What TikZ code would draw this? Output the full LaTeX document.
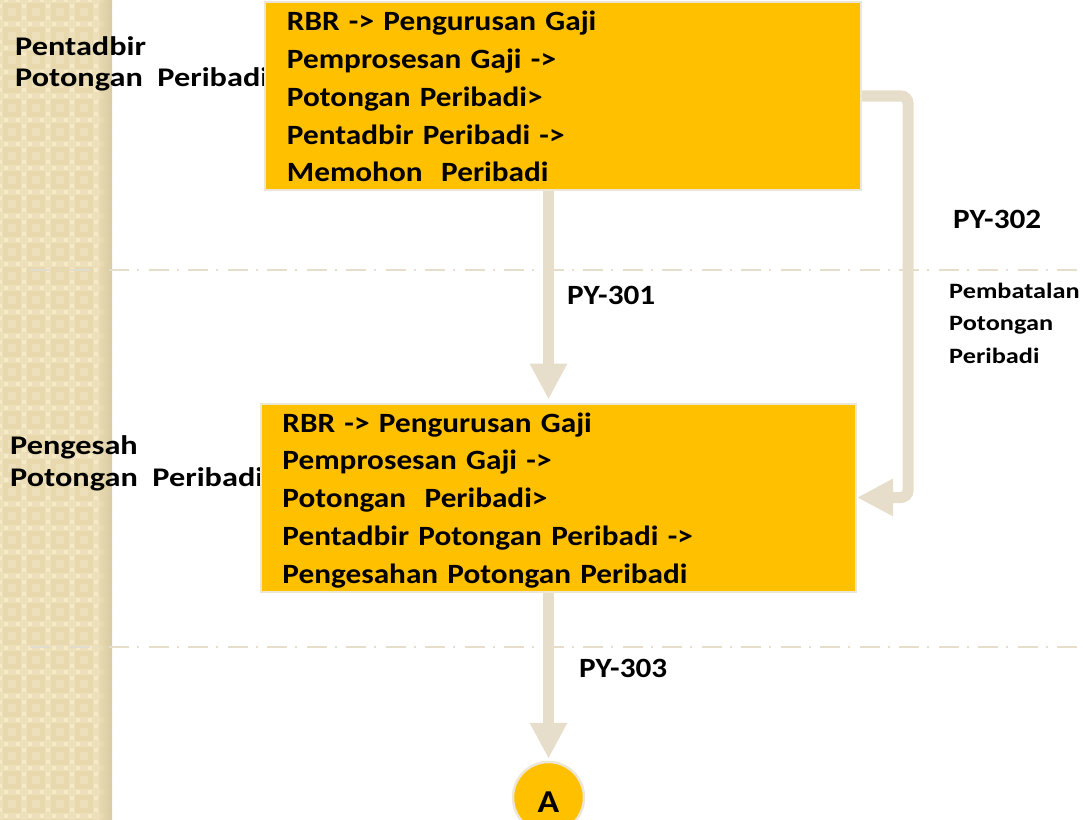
\documentclass[tikz,border=0pt]{standalone}
\usepackage{fontspec}
\setmainfont{Carlito}[FakeStretch=1.12]
\newfontfamily\perananfont{Carlito}[FakeStretch=1.2]
\usetikzlibrary{arrows.meta,positioning}

\definecolor{oren}{RGB}{255,192,0}
\definecolor{krim}{RGB}{230,222,202}
\definecolor{tepi}{RGB}{238,230,212}
\definecolor{jalur}{RGB}{231,216,174}
\definecolor{jalurcerah}{RGB}{236,223,185}
\definecolor{jalurtitik}{RGB}{246,233,197}
\definecolor{jalurgelap}{RGB}{212,199,162}
\definecolor{garisjalur}{RGB}{224,220,208}

\tikzset{
  teks/.style={font=\fontsize{28}{38}\selectfont\bfseries},
  kotak/.style={teks, draw=tepi, line width=2bp, fill=oren, align=left,
    text width=552bp, inner xsep=21.5bp, inner ysep=0pt, minimum height=188bp,
    text height=23bp, text depth=154bp},
  peranan/.style={font=\perananfont\fontsize{27}{32}\selectfont\bfseries, align=left,
    anchor=base west, inner sep=0pt},
  kod/.style={teks, anchor=base west, inner sep=0pt},
  aliran/.style={krim, line width=11bp, -{Triangle[width=35bp,length=36bp]}},
  garis/.style={line width=2.5bp, dash pattern=on 20bp off 8bp on 2bp off 9.5bp},
}

\begin{document}
\begin{tikzpicture}[x=1bp,y=-1bp]

    \useasboundingbox (0,0) rectangle (1084,820);

    % jalur kiri
    \begin{scope}
      \clip (0,0) rectangle (112,820);
      \fill[jalur] (0,0) rectangle (112,820);
      \foreach \i in {0,...,4}
        \foreach \j in {0,...,34} {
          \fill[jalurcerah] (24*\i-3,24*\j) rectangle ++(6,24);
          \fill[jalurcerah] (24*\i,24*\j-3) rectangle ++(24,6);
          \fill[jalurcerah] (24*\i+8,24*\j+8) rectangle ++(8,8);
          \fill[jalurtitik] (24*\i-8,24*\j-2) rectangle ++(4,4);
          \fill[jalurtitik] (24*\i+4,24*\j-2) rectangle ++(4,4);
          \fill[jalurtitik] (24*\i-2,24*\j-8) rectangle ++(4,4);
          \fill[jalurtitik] (24*\i-2,24*\j+4) rectangle ++(4,4);
        }
      \shade[left color=jalur, right color=jalurgelap, opacity=.8] (100,0) rectangle (112,820);
    \end{scope}

    % garis pemisah
    \draw[garis, krim] (30,270) -- (1084,270);
    \draw[garis, garisjalur] (30,270) -- (112,270);
    \draw[garis, krim] (30,647) -- (1084,647);
    \draw[garis, garisjalur] (30,647) -- (112,647);

    % peranan
    \node[peranan] (pentadbir) at (15,87) {Pentadbir\\Potongan\ \ Peribadi};
    \node[peranan] (pengesah) at (10,486) {Pengesah\\Potongan\ \ Peribadi};

    % kotak proses
    \node[kotak, minimum width=596bp] (mohon) at (563,96)
      {RBR -> Pengurusan Gaji\\Pemprosesan Gaji ->\\Potongan Peribadi>\\Pentadbir Peribadi ->\\Memohon\ \ Peribadi};
    \node[kotak, minimum width=595bp] (sah) at (558.5,497.5)
      {RBR -> Pengurusan Gaji\\Pemprosesan Gaji ->\\Potongan\ \ Peribadi>\\Pentadbir Potongan Peribadi ->\\Pengesahan Potongan Peribadi};

    \node[circle, draw=tepi, line width=2.5bp, fill=oren, minimum size=71bp,
      inner sep=0pt, font=\fontsize{32}{38}\selectfont\bfseries,
      text height=30bp, text depth=0pt] (sambung) at (548.5,797.5) {A};

    % anak panah
    \coordinate (c301) at (548.5,0);
    \coordinate (c302) at (908,0);
    \draw[aliran, shorten >=3bp] (c301 |- mohon.south) -- (c301 |- sah.north);
    \draw[aliran, rounded corners=7bp] (mohon.east) -- (c302 |- mohon.east)
        -- (c302 |- sah.east) -- (sah.east);
    \draw[aliran, shorten >=2bp] (c301 |- sah.south) -- (sambung.north);

    % kod
    \node[kod] (py301) at (567,304) {PY-301};
    \node[kod] (py302) at (953,228) {PY-302};
    \node[kod] (py303) at (579,677) {PY-303};
    \node[peranan, font=\perananfont\fontsize{22}{32.5}\selectfont\bfseries] (batal) at (949,363)
      {Pembatalan\\Potongan\\Peribadi};

\end{tikzpicture}
\end{document}
